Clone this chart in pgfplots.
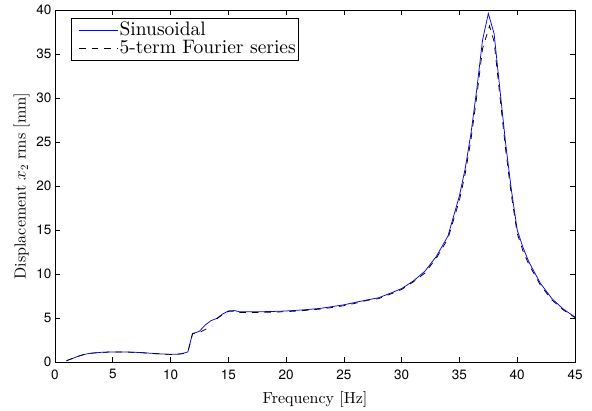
\documentclass[border=0pt]{standalone}
\usepackage{fontspec}
\setmainfont{lmroman10-regular.otf}
\usepackage{pgfplots}
\pgfplotsset{compat=1.18}
\newfontfamily\tickfont{TeX Gyre Heros}

\begin{document}
\begin{tikzpicture}
\begin{axis}[
  scale only axis,
  width=520pt, height=352pt,
  xmin=0, xmax=45, ymin=0, ymax=40,
  xtick={0,5,...,45}, ytick={0,5,...,40},
  tick align=inside,
  major tick length=5pt,
  axis line style={line width=0.8pt},
  every tick/.style={line width=0.6pt, black},
  /pgf/number format/assume math mode=true,
  ticklabel style={font=\tickfont\fontsize{13.5}{14}\selectfont},
  xticklabel style={yshift=-4pt},
  label style={font=\fontsize{16}{18}\selectfont},
  xlabel style={yshift=-5pt},
  xlabel={Frequency [Hz]},
  ylabel={Displacement $x_2$ rms [mm]},
  legend cell align=left,
  legend style={at={(0.030,0.976)}, anchor=north west,
    font=\fontsize{19.5}{19.5}\selectfont, line width=0.6pt,
    row sep=0pt, inner xsep=1pt, inner ysep=3pt,
    nodes={inner sep=1pt, text height=13pt, text depth=3pt}},
  legend image code/.code={\path (0pt,0pt); \draw[#1] (7pt,0pt) -- (46pt,0pt);},
  unbounded coords=jump,
]
\addplot[color=blue, draw=blue, line width=0.75pt] table {
1 0.15
1.5 0.4
2 0.65
2.5 0.85
3 0.98
4 1.1
5 1.15
6 1.15
7 1.1
8 1.02
9 0.93
10 0.87
10.5 0.88
11 0.95
11.5 1.15
11.9 3.25
12.2 3.35
12.5 3.5
13 4.2
13.5 4.7
14 4.95
14.5 5.45
15 5.8
15.5 5.85
16 5.7
17 5.7
18 5.72
19 5.75
20 5.8
21 5.88
22 5.98
23 6.1
24 6.3
25 6.5
26 6.78
27 7.05
28 7.3
29 7.8
30 8.35
31 9.2
32 10.3
33 12.0
34 14.3
35 18.9
35.5 22.0
36 26.0
36.5 31.0
37 36.6
37.5 39.6
38 37.3
38.5 31.0
39 24.8
39.5 19.5
40 15.0
40.5 13.0
41 11.4
42 8.95
43 7.2
44 6.0
45 5.1
};
\addlegendentry{Sinusoidal}
\addplot[color=black, draw=black, line width=0.75pt, dash pattern=on 6.5pt off 6pt] table {
1 0.15
1.5 0.4
2 0.65
2.5 0.85
3 0.98
4 1.1
5 1.14
6 1.14
7 1.09
8 1.01
9 0.92
10 0.86
10.5 0.87
11 0.94
11.5 1.14
11.9 3.2
12.2 3.3
12.6 3.42
13.0 3.7
13.6 4.1
13.8 nan
14.0 4.9
14.5 5.4
15 5.75
15.5 5.78
16 5.62
17 5.62
18 5.64
19 5.67
20 5.72
21 5.8
22 5.9
23 6.02
24 6.2
25 6.4
26 6.68
27 7.0
28 7.2
29 7.7
30 8.25
31 9.1
32 10.1
33 11.8
34 14.0
35 18.4
35.5 21.4
36 25.3
36.5 30.2
37 35.6
37.6 38.2
38 36.4
38.5 30.2
39 24.1
39.5 18.9
40 14.6
40.5 12.6
41 11.1
42 8.75
43 7.05
44 5.9
45 5.05
};
\addlegendentry{5-term Fourier series}
\end{axis}
% page margins around the axis box
\path (current axis.south west) +(-55pt,-46pt);
\path (current axis.north east) +(17pt,10pt);
\end{tikzpicture}
\end{document}
